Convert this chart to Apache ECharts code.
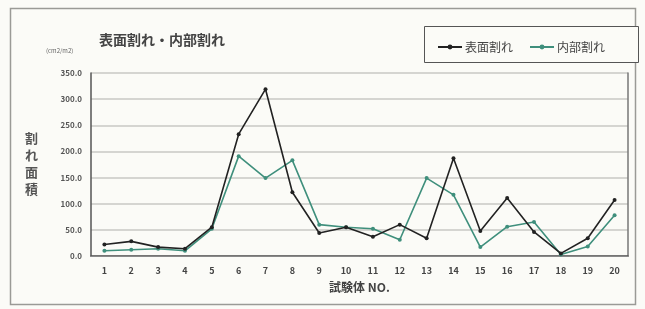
<!DOCTYPE html>
<html>
<head>
<meta charset="utf-8">
<script src="https://cdn.jsdelivr.net/npm/echarts@6/dist/echarts.min.js"></script>
<style>
  html, body { margin: 0; padding: 0; background: #fbfbf7; }
  #chart { width: 645px; height: 309px; }
</style>
</head>
<body>
<div id="chart"></div>
<script>
const categories = ['1', '2', '3', '4', '5', '6', '7', '8', '9', '10',
  '11', '12', '13', '14', '15', '16', '17', '18', '19', '20']
// 表面割れ
const surfaceCrack = [22, 28, 17, 14, 55, 233, 319, 122, 44, 55,
  37, 60, 34, 187, 48, 111, 46, 5, 34, 107]
// 内部割れ
const innerCrack = [10, 12, 14, 10, 52, 191, 149, 183, 60, 55,
  52, 31, 149, 117, 17, 56, 65, 3, 18, 78]
const yTicks = { min: 0, max: 350, interval: 50 }

const FONT = '"Noto Sans CJK JP", "DejaVu Serif", serif'
const Colors = ['#222222', '#3f8f7c']

const chart = echarts.init(document.getElementById('chart'))

chart.setOption({
  backgroundColor: '#fbfbf7',
  animation: false,
  textStyle: { fontFamily: FONT },
  graphic: [
    {
      type: 'rect',
      shape: { x: 10.5, y: 8.5, width: 625, height: 296 },
      style: { fill: 'none', stroke: '#9a9a96', lineWidth: 1.5 }
    },
    {
      type: 'rect',
      shape: { x: 424.5, y: 26.5, width: 214, height: 36 },
      style: { fill: '#fbfbf7', stroke: '#555', lineWidth: 1 }
    },
    {
      type: 'text',
      left: 99,
      top: 33,
      style: { text: '表面割れ・内部割れ', font: 'bold 14px ' + FONT, fill: '#444' }
    },
    {
      type: 'text',
      left: 46,
      top: 48,
      style: { text: '(cm2/m2)', font: '6px ' + FONT, fill: '#666' }
    },
    {
      type: 'text',
      left: 25,
      top: 130,
      style: { text: '割\nれ\n面\n積', font: 'bold 13px ' + FONT, fill: '#555', lineHeight: 17 }
    }
  ],
  legend: {
    data: ['表面割れ', '内部割れ'],
    left: 432,
    top: 36,
    itemWidth: 24,
    itemHeight: 6,
    itemGap: 16,
    textStyle: { fontFamily: FONT, fontSize: 12, color: '#444', padding: [0, 0, 0, -2] }
  },
  grid: {
    left: 91,
    right: 17,
    top: 73,
    bottom: 53
  },
  xAxis: [
    {
      type: 'category',
      data: categories,
      boundaryGap: true,
      name: '試験体 NO.',
      nameLocation: 'middle',
      nameGap: 25,
      nameTextStyle: { fontFamily: FONT, fontSize: 12, color: '#444', fontWeight: 'bold' },
      axisLine: { lineStyle: { color: '#555', width: 1.5 } },
      axisTick: { inside: true, length: 3, lineStyle: { color: '#666' } },
      axisLabel: { color: '#444', fontSize: 9, margin: 10, fontFamily: FONT, fontWeight: 'bold' },
      splitLine: { show: false }
    },
    {
      // top frame of the plot area
      type: 'category',
      data: categories,
      position: 'top',
      axisLine: { lineStyle: { color: '#888', width: 1 } },
      axisTick: { show: false },
      axisLabel: { show: false }
    }
  ],
  yAxis: [
    {
      type: 'value',
      min: yTicks.min,
      max: yTicks.max,
      interval: yTicks.interval,
      axisLine: { show: true, lineStyle: { color: '#555', width: 1.5 } },
      axisTick: { show: false },
      axisLabel: {
        color: '#555',
        fontSize: 8,
        margin: 9,
        fontFamily: FONT,
        fontWeight: 'bold',
        formatter: v => v.toFixed(1)
      },
      splitLine: { lineStyle: { color: '#c8c8c4', width: 1.5 } }
    },
    {
      // right frame of the plot area
      type: 'value',
      position: 'right',
      min: yTicks.min,
      max: yTicks.max,
      interval: yTicks.interval,
      axisLine: { show: true, lineStyle: { color: '#777', width: 1.5 } },
      axisTick: { show: false },
      axisLabel: { show: false },
      splitLine: { show: false }
    }
  ],
  series: [
    {
      name: '表面割れ',
      type: 'line',
      data: surfaceCrack,
      symbol: 'circle',
      symbolSize: 4,
      itemStyle: { color: Colors[0] },
      lineStyle: { color: Colors[0], width: 1.6 },
      z: 3
    },
    {
      name: '内部割れ',
      type: 'line',
      data: innerCrack,
      symbol: 'circle',
      symbolSize: 4,
      itemStyle: { color: Colors[1] },
      lineStyle: { color: Colors[1], width: 1.6 },
      z: 2
    }
  ]
})
</script>
</body>
</html>
